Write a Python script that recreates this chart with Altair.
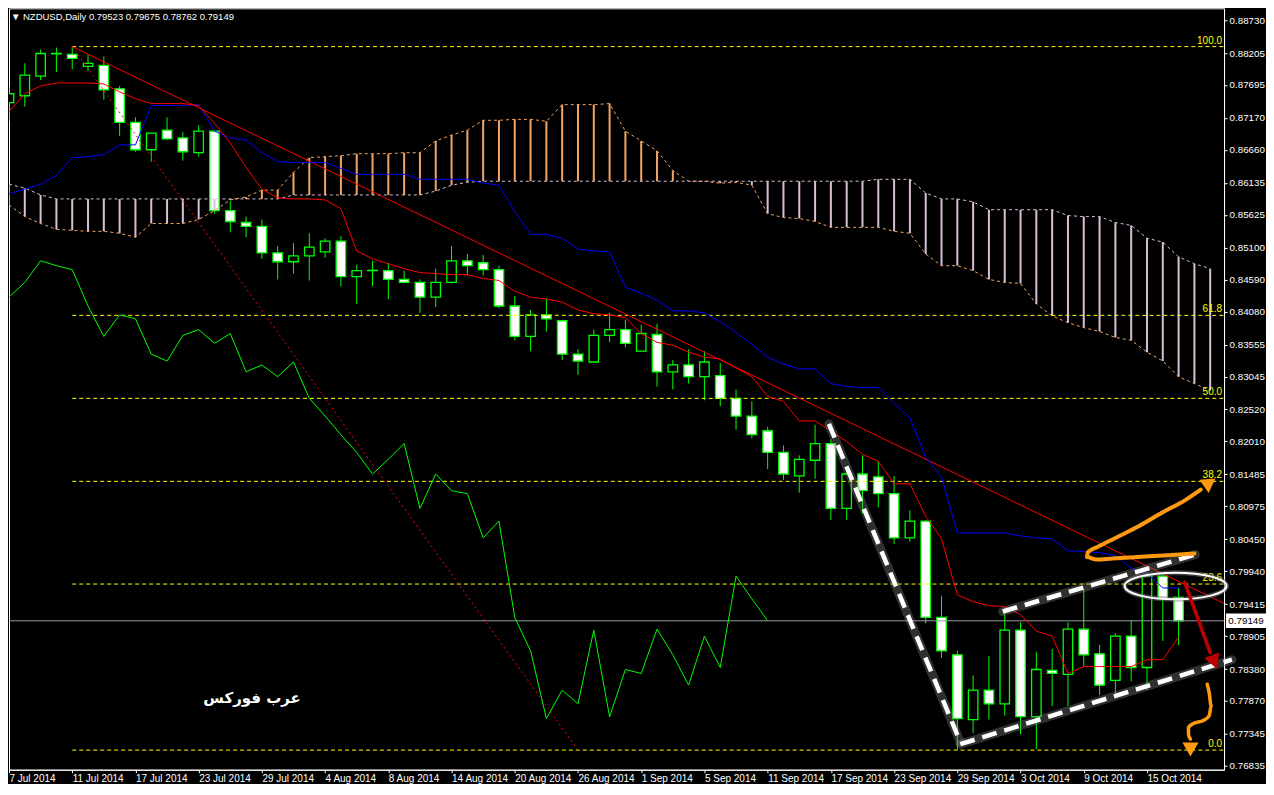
import json
import altair as alt
import pandas as pd

# ---------------- data ----------------
tick_labels = ["7 Jul 2014", "11 Jul 2014", "17 Jul 2014", "23 Jul 2014", "29 Jul 2014",
               "4 Aug 2014", "8 Aug 2014", "14 Aug 2014", "20 Aug 2014", "26 Aug 2014",
               "1 Sep 2014", "5 Sep 2014", "11 Sep 2014", "17 Sep 2014", "23 Sep 2014",
               "29 Sep 2014", "3 Oct 2014", "9 Oct 2014", "15 Oct 2014"]

opens = [0.87414, 0.87523, 0.87837, 0.88190, 0.88182, 0.87993, 0.88009, 0.87633, 0.87100, 0.86662,
         0.86975, 0.86850, 0.86615, 0.86959, 0.85690, 0.85502, 0.85439, 0.85016, 0.84876, 0.84969,
         0.85032, 0.85204, 0.84640, 0.84734, 0.84734, 0.84593, 0.84546, 0.84311, 0.84546, 0.84891,
         0.84860, 0.84750, 0.84170, 0.83684, 0.84029, 0.83935, 0.83402, 0.83277, 0.83700, 0.83794,
         0.83449, 0.83715, 0.83120, 0.83230, 0.83042, 0.83058, 0.82697, 0.82415, 0.82180, 0.81835,
         0.81459, 0.81710, 0.81976, 0.80942, 0.81490, 0.81443, 0.81177, 0.80472, 0.80738, 0.79203,
         0.78607, 0.77573, 0.78043, 0.77824, 0.78999, 0.77620, 0.78357, 0.78294, 0.79015, 0.78623,
         0.78200, 0.78905, 0.78404, 0.79861, 0.79523]
highs = [0.87664, 0.88040, 0.88260, 0.88291, 0.88307, 0.88182, 0.88150, 0.87680, 0.87179, 0.86928,
         0.87179, 0.86943, 0.87053, 0.86975, 0.85847, 0.85596, 0.85549, 0.85126, 0.85173, 0.85330,
         0.85251, 0.85283, 0.84828, 0.84891, 0.84860, 0.84734, 0.84593, 0.84765, 0.85126, 0.85001,
         0.84985, 0.84813, 0.84327, 0.84108, 0.84295, 0.83951, 0.83480, 0.83794, 0.84060, 0.83951,
         0.83872, 0.83888, 0.83308, 0.83480, 0.83449, 0.83261, 0.82838, 0.82650, 0.82243, 0.81945,
         0.81788, 0.82274, 0.82039, 0.81553, 0.81788, 0.81694, 0.81459, 0.80911, 0.80754, 0.79547,
         0.78670, 0.78278, 0.78591, 0.79265, 0.79125, 0.78654, 0.78701, 0.79125, 0.79657, 0.78764,
         0.78952, 0.79156, 0.79905, 0.79905, 0.79675]
lows = [0.87116, 0.87351, 0.87774, 0.87899, 0.87946, 0.87915, 0.87461, 0.86881, 0.86630, 0.86473,
        0.86818, 0.86489, 0.86552, 0.85643, 0.85345, 0.85267, 0.84922, 0.84593, 0.84687, 0.84577,
        0.84938, 0.84483, 0.84201, 0.84483, 0.84280, 0.84530, 0.84060, 0.84154, 0.84530, 0.84656,
        0.84656, 0.84139, 0.83621, 0.83449, 0.83762, 0.83308, 0.83073, 0.83261, 0.83590, 0.83512,
        0.83434, 0.82885, 0.82838, 0.82932, 0.82666, 0.82572, 0.82196, 0.82055, 0.81569, 0.81396,
        0.81193, 0.81412, 0.80754, 0.80754, 0.80864, 0.80958, 0.80378, 0.80410, 0.79109, 0.78560,
        0.77087, 0.77354, 0.77573, 0.77636, 0.77338, 0.77103, 0.77792, 0.77792, 0.78419, 0.77965,
        0.77996, 0.78184, 0.78043, 0.78827, 0.78762]
closes = [0.87555, 0.87852, 0.88197, 0.88197, 0.88119, 0.88040, 0.87617, 0.87100, 0.86662, 0.86928,
          0.86834, 0.86630, 0.86959, 0.85690, 0.85518, 0.85439, 0.85016, 0.84876, 0.84969, 0.85110,
          0.85204, 0.84640, 0.84734, 0.84740, 0.84593, 0.84546, 0.84311, 0.84546, 0.84891, 0.84813,
          0.84750, 0.84170, 0.83684, 0.84029, 0.83966, 0.83402, 0.83292, 0.83700, 0.83794, 0.83575,
          0.83731, 0.83120, 0.83230, 0.83042, 0.83277, 0.82697, 0.82415, 0.82117, 0.81835, 0.81490,
          0.81725, 0.81976, 0.80942, 0.81490, 0.81224, 0.81177, 0.80472, 0.80738, 0.79203, 0.78670,
          0.77589, 0.78043, 0.77824, 0.78999, 0.77620, 0.78372, 0.78309, 0.79015, 0.78607, 0.78122,
          0.78905, 0.78404, 0.79861, 0.79500, 0.79149]

tenkan = [0.87273, 0.87555, 0.87680, 0.87727, 0.87727, 0.87727, 0.87711, 0.87586, 0.87476, 0.87398,
          0.87398, 0.87398, 0.87367, 0.87085, 0.86771, 0.86379, 0.86035, 0.85894, 0.85878, 0.85878,
          0.85862, 0.85721, 0.85047, 0.84922, 0.84844, 0.84765, 0.84703, 0.84687, 0.84671, 0.84671,
          0.84609, 0.84577, 0.84405, 0.84311, 0.84280, 0.84233, 0.84107, 0.84045, 0.84029, 0.83982,
          0.83731, 0.83590, 0.83543, 0.83433, 0.83355, 0.83324, 0.83183, 0.83042, 0.82728, 0.82650,
          0.82337, 0.82337, 0.82180, 0.82008, 0.81804, 0.81694, 0.81334, 0.81334, 0.80817, 0.80456,
          0.79563, 0.79453, 0.79391, 0.79375, 0.79250, 0.78983, 0.78905, 0.78309, 0.78419, 0.78419,
          0.78419, 0.78419, 0.78529, 0.78529, 0.78889]
kijun = [0.85956, 0.86035, 0.86113, 0.86254, 0.86536, 0.86552, 0.86583, 0.86740, 0.86740, 0.87367,
         0.87367, 0.87367, 0.87382, 0.86959, 0.86850, 0.86818, 0.86615, 0.86474, 0.86458, 0.86458,
         0.86458, 0.86364, 0.86270, 0.86270, 0.86270, 0.86270, 0.86191, 0.86191, 0.86191, 0.86191,
         0.86129, 0.86097, 0.85674, 0.85314, 0.85314, 0.85251, 0.85079, 0.85048, 0.85032, 0.84468,
         0.84374, 0.84264, 0.84092, 0.84092, 0.84060, 0.83919, 0.83747, 0.83559, 0.83355, 0.83245,
         0.83167, 0.83167, 0.82932, 0.82885, 0.82869, 0.82869, 0.82619, 0.82384, 0.81757, 0.81443,
         0.80550, 0.80550, 0.80550, 0.80550, 0.80503, 0.80472, 0.80456, 0.80268, 0.80252, 0.80237,
         0.80190, 0.79986, 0.79908, 0.79673, 0.79673]
span_a = [0.85784, 0.85596, 0.85486, 0.85392, 0.85377, 0.85361, 0.85361, 0.85330, 0.85267,
          0.85486, 0.85486, 0.85486, 0.85549, 0.85690, 0.85862, 0.85909, 0.86019, 0.86019, 0.86301,
          0.86536, 0.86552, 0.86568, 0.86599, 0.86599, 0.86599, 0.86615, 0.86615, 0.86803, 0.86897,
          0.86975, 0.87132, 0.87132, 0.87147, 0.87147, 0.87116, 0.87382, 0.87382, 0.87382, 0.87398,
          0.86959, 0.86803, 0.86646, 0.86332, 0.86160, 0.86160, 0.86129, 0.86144, 0.86097, 0.85643,
          0.85580, 0.85565, 0.85518, 0.85424, 0.85424, 0.85424, 0.85424, 0.85361, 0.85330, 0.85000,
          0.84812, 0.84812, 0.84734, 0.84593, 0.84546, 0.84530, 0.84201, 0.84013, 0.83904, 0.83825,
          0.83763, 0.83669, 0.83622, 0.83434, 0.83293, 0.83042, 0.82932, 0.82822]
span_b = ([0.86113, 0.86050, 0.85941] + [0.85878] * 15 + [0.85941] * 9 + [0.86003, 0.86097, 0.86144]
          + [0.86160] * 25 + [0.86191] * 3 + [0.85972, 0.85878, 0.85878, 0.85831] + [0.85706] * 5
          + [0.85612, 0.85596, 0.85596, 0.85502, 0.85455, 0.85251, 0.85189, 0.84954, 0.84844, 0.84765])

fibo_high, fibo_low = 0.88307, 0.77087
fibo_start, fibo_end = 4, 36
fibo_levels = [100.0, 61.8, 50.0, 38.2, 23.6, 0.0]
trend_pts = [(4, 0.88307), (76.875, 0.79427)]

y_ticks = [0.88730, 0.88205, 0.87695, 0.87170, 0.86660, 0.86135, 0.85625, 0.85100, 0.84590, 0.84080,
           0.83555, 0.83045, 0.82520, 0.82010, 0.81485, 0.80975, 0.80450, 0.79940, 0.79415, 0.78905,
           0.78380, 0.77870, 0.77345, 0.76835]

# hand-drawn annotations (bar index, price)
chan_down = [(51.875, 0.82290), (60.19, 0.77213)]
chan_low = [(60.19, 0.77181), (77.375, 0.78529)]
chan_up = [(62.875, 0.79297), (75.06, 0.80206)]
orange_up = [(75.0, 0.80221), (71.875, 0.80174), (69.81, 0.80143), (68.8, 0.80125), (68.2, 0.80165),
             (68.25, 0.80240), (68.9, 0.80330), (70.0, 0.80470), (71.5, 0.80660), (73.0, 0.80880),
             (74.4, 0.81070), (75.4, 0.81240)]
orange_up_head = (75.85, 0.81334, 55)
red_arrow = [(74.375, 0.79767), (76.0, 0.78640)]
red_arrow_head = (76.2, 0.78529, 160)
orange_down = [(75.81, 0.78137), (75.94, 0.77996), (76.06, 0.77792), (75.94, 0.77636), (75.56, 0.77557),
               (74.94, 0.77510), (74.625, 0.77448), (74.625, 0.77338), (74.75, 0.77260)]
orange_down_head = (74.75, 0.77134, 180)
ellipse_center = (73.81, 0.79704)
brand_text = ("عرب فوركس", 15.375, 0.77918)

# ---------------- chart ----------------
W, H = 1216, 762
X_DOM = [0, 76.875]
Y_DOM = [0.76774, 0.88918]
LIME, RED, BLUE = "#00FF00", "#FF0000", "#0000FF"
SANDY, THISTLE, YELLOW = "#F4A460", "#D8BFD8", "#FFFF00"
ORANGE, DARKRED = "#FF9A10", "#C00000"

xs = alt.Scale(domain=X_DOM, nice=False, zero=False)
ys = alt.Scale(domain=Y_DOM, nice=False, zero=False)

label_expr = json.dumps(tick_labels) + "[round(datum.value / 4)]"
x_axis = alt.Axis(orient="bottom", values=list(range(0, 73, 4)), labelExpr=label_expr,
                  labelAlign="left", labelBaseline="top", labelColor="white", labelFont="Liberation Sans",
                  labelFontSize=10, tickColor="white", tickSize=3, labelPadding=1, domainColor="white",
                  grid=False, title=None, labelFlush=False, labelOverlap=False)
y_axis = alt.Axis(orient="right", values=y_ticks, format=".5f", labelColor="white",
                  labelFont="Liberation Sans", labelFontSize=9.8, tickColor="white", tickSize=3,
                  labelPadding=2, domainColor="white", grid=False, title=None, labelOverlap=False)


def X(f):
    return alt.X(f, type="quantitative", scale=xs, axis=x_axis, title=None)


def Y(f):
    return alt.Y(f, type="quantitative", scale=ys, axis=y_axis, title=None)


candles = pd.DataFrame({"i": range(len(opens)), "open": opens, "high": highs, "low": lows, "close": closes})
cloud = pd.DataFrame({"i": range(len(span_a)), "a": span_a, "b": span_b})
ind = pd.DataFrame({"i": range(len(tenkan)), "tenkan": tenkan, "kijun": kijun})
chikou = pd.DataFrame({"i": range(len(closes) - 26), "c": closes[26:]})
fibo = pd.DataFrame({"lvl": fibo_levels})
fibo["p"] = fibo_low + fibo["lvl"] / 100.0 * (fibo_high - fibo_low)
fibo["lab"] = fibo["lvl"].map(lambda v: f"{v:.1f}")
fibo["x0"] = fibo_start
fibo["x1"] = X_DOM[1]


def path_df(pts):
    return pd.DataFrame({"k": range(len(pts)), "x": [p[0] for p in pts], "y": [p[1] for p in pts]})


wicks = alt.Chart(candles).mark_rule(color=LIME, strokeWidth=1, clip=True).encode(
    x=X("i"), y=Y("low"), y2="high")
bodies = alt.Chart(candles).transform_calculate(
    x0="datum.i - 0.3", x1="datum.i + 0.3").mark_rect(stroke=LIME, strokeWidth=1.3, clip=True).encode(
    x=X("x0"), x2="x1", y=Y("open"), y2="close",
    fill=alt.condition("datum.close < datum.open", alt.value("white"), alt.value("black")))

cloud_rules = alt.Chart(cloud).mark_rule(strokeWidth=2, clip=True).encode(
    x=X("i"), y=Y("a"), y2="b",
    color=alt.condition("datum.a >= datum.b", alt.value(SANDY), alt.value(THISTLE)))
line_a = alt.Chart(cloud).mark_line(color=SANDY, strokeWidth=1, strokeDash=[3, 3], clip=True).encode(
    x=X("i"), y=Y("a"))
line_b = alt.Chart(cloud).mark_line(color=THISTLE, strokeWidth=1, strokeDash=[3, 3], clip=True).encode(
    x=X("i"), y=Y("b"))

fibo_rules = alt.Chart(fibo).mark_rule(color=YELLOW, strokeWidth=1, strokeDash=[4, 3], clip=True).encode(
    x=X("x0"), x2="x1", y=Y("p"))
fibo_text = alt.Chart(fibo).mark_text(color=YELLOW, align="right", baseline="bottom", dy=-1,
                                      fontSize=10, font="Liberation Sans").encode(
    x=alt.value(W - 2), y=Y("p"), text="lab:N")
fibo_diag = alt.Chart(path_df([(fibo_start, fibo_high), (fibo_end, fibo_low)])).mark_line(
    color=RED, strokeWidth=1, strokeDash=[2, 3], clip=True).encode(x=X("x"), y=Y("y"), order="k:Q")
trend = alt.Chart(path_df(trend_pts)).mark_line(color=RED, strokeWidth=1, clip=True).encode(
    x=X("x"), y=Y("y"), order="k:Q")

price_line = alt.Chart(pd.DataFrame({"p": [closes[-1]]})).mark_rule(color="#9A9AA4", strokeWidth=1).encode(
    y=Y("p"))

chikou_line = alt.Chart(chikou).mark_line(color=LIME, strokeWidth=1, clip=True).encode(x=X("i"), y=Y("c"))
kijun_line = alt.Chart(ind).mark_line(color=BLUE, strokeWidth=1, clip=True).encode(x=X("i"), y=Y("kijun"))
tenkan_line = alt.Chart(ind).mark_line(color=RED, strokeWidth=1, clip=True).encode(x=X("i"), y=Y("tenkan"))


def dashed_white(pts):
    d = path_df(pts)
    glow = alt.Chart(d).mark_line(color="#8a8a8a", strokeWidth=9, opacity=0.35, clip=False,
                                  strokeCap="round").encode(x=X("x"), y=Y("y"), order="k:Q")
    line = alt.Chart(d).mark_line(color="white", strokeWidth=4.5, strokeDash=[15, 8], clip=False).encode(
        x=X("x"), y=Y("y"), order="k:Q")
    return [glow, line]


def arrow(pts, head, color, width):
    d = path_df(pts)
    line = alt.Chart(d).mark_line(color=color, strokeWidth=width, clip=False, strokeCap="round",
                                  strokeJoin="round", interpolate="monotone").encode(
        x=X("x"), y=Y("y"), order="k:Q")
    h = pd.DataFrame({"x": [head[0]], "y": [head[1]]})
    tip = alt.Chart(h).mark_point(shape="triangle", filled=True, color=color, opacity=1, size=260,
                                  angle=head[2], clip=False).encode(x=X("x"), y=Y("y"))
    return [line, tip]


ell_df = pd.DataFrame({"x": [ellipse_center[0]], "y": [ellipse_center[1]]})
ellipse_shape = "M -1 0 A 1 0.26 0 1 1 1 0 A 1 0.26 0 1 1 -1 0 Z"
ellipse_glow = alt.Chart(ell_df).mark_point(shape=ellipse_shape, filled=False, color="#777777",
                                            strokeWidth=5, opacity=0.5, size=102 * 102).encode(
    x=X("x"), y=Y("y"))
ellipse = alt.Chart(ell_df).mark_point(shape=ellipse_shape, filled=False, color="white",
                                       strokeWidth=2, opacity=1, size=102 * 102).encode(x=X("x"), y=Y("y"))

brand = alt.Chart(pd.DataFrame({"t": [brand_text[0]], "x": [brand_text[1]], "y": [brand_text[2]]})).mark_text(
    color="white", font="DejaVu Sans", fontWeight="bold", fontSize=15).encode(x=X("x"), y=Y("y"), text="t:N")

header = "▼ NZDUSD,Daily  {:.5f} {:.5f} {:.5f} {:.5f}".format(opens[-1], highs[-1], lows[-1], closes[-1])
header_txt = alt.Chart(pd.DataFrame({"t": [header]})).mark_text(
    color="white", align="left", baseline="middle", fontSize=9.5, font="Liberation Sans").encode(
    x=alt.value(2), y=alt.value(9), text="t:N")

last_df = pd.DataFrame({"p": [closes[-1]], "t": [f"{closes[-1]:.5f}"]})
box_shape = "M -1 -0.36 L 1 -0.36 L 1 0.36 L -1 0.36 Z"
price_box = alt.Chart(last_df).mark_point(shape=box_shape, filled=True, color="white", opacity=1,
                                          size=40 * 40, clip=False).encode(x=alt.value(W + 22), y=Y("p"))
price_txt = alt.Chart(last_df).mark_text(color="black", fontSize=9.8, font="Liberation Sans",
                                         baseline="middle").encode(x=alt.value(W + 22), y=Y("p"), text="t:N")

layers = [wicks, bodies, cloud_rules, line_a, line_b, fibo_rules, fibo_text, price_line, fibo_diag, trend,
          chikou_line, kijun_line, tenkan_line]
layers += dashed_white(chan_down) + dashed_white(chan_low) + dashed_white(chan_up)
layers += [ellipse_glow, ellipse]
layers += arrow(orange_up, orange_up_head, ORANGE, 4)
layers += arrow(red_arrow, red_arrow_head, DARKRED, 3.5)
layers += arrow(orange_down, orange_down_head, ORANGE, 3.5)
layers += [brand, header_txt, price_box, price_txt]

chart = alt.layer(*layers).properties(
    width=W, height=H,
    padding=0,
    background="black",
).configure_view(stroke="white", strokeWidth=1)

chart.save("out.html", embed_options={"renderer": "svg", "actions": False})
